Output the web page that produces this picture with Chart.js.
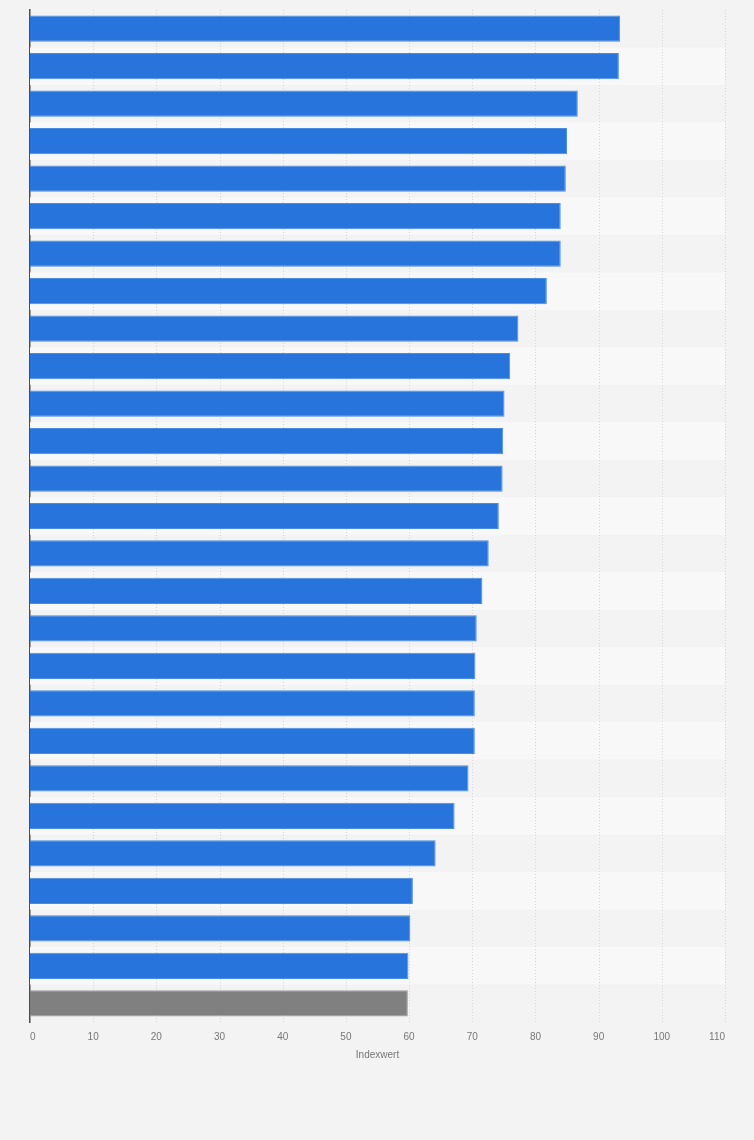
<!DOCTYPE html>
<html>
<head>
<meta charset="utf-8">
<script src="https://cdn.jsdelivr.net/npm/chart.js@4/dist/chart.umd.min.js"></script>
<style>
  html, body { margin: 0; padding: 0; background: #f3f3f3; }
  #wrap { position: relative; width: 754px; height: 1140px; }
</style>
</head>
<body>
<div id="wrap"><canvas id="chart"></canvas></div>
<script>
// rows top to bottom, category names are not shown in the picture
let ranks = ['1', '2', '3', '4', '5', '6', '7', '8', '9', '10', '11', '12', '13', '14',
  '15', '16', '17', '18', '19', '20', '21', '22', '23', '24', '25', '26', '27']
let indexValues = [93.4, 93.2, 86.7, 85.0, 84.8, 84.0, 84.0, 81.8, 77.3, 76.0, 75.1, 74.9, 74.8, 74.2,
  72.6, 71.6, 70.7, 70.5, 70.4, 70.4, 69.4, 67.2, 64.2, 60.6, 60.2, 59.9, 59.8]
let highlighted = [26] // index of the grey bar
let xTicks = [0, 10, 20, 30, 40, 50, 60, 70, 80, 90, 100, 110]
let axisTitle = 'Indexwert'

let blue = '#2775dc'
let grey = '#808080'

let fills = indexValues.map((v, i) => highlighted.includes(i) ? grey : blue)
let borders = indexValues.map((v, i) => highlighted.includes(i) ? '#9a9a9a' : '#4a8ce4')

// alternating row bands behind the bars
let stripes = {
  id: 'stripes',
  beforeDatasetsDraw(chart) {
    let {ctx, chartArea, scales} = chart
    let y = scales.y
    let half = (y.getPixelForValue(1) - y.getPixelForValue(0)) / 2
    ctx.save()
    for (let i = 0; i < ranks.length; ++i) {
      if (i % 2 === 1) {
        let c = y.getPixelForValue(i)
        ctx.fillStyle = '#f8f8f8'
        ctx.fillRect(chartArea.left, c - half, chartArea.right - chartArea.left, half * 2)
      }
    }
    ctx.restore()
  },
}

// dotted vertical grid drawn over the stripes, under the bars
let dottedGrid = {
  id: 'dottedGrid',
  beforeDatasetsDraw(chart) {
    let {ctx, chartArea, scales} = chart
    ctx.save()
    ctx.strokeStyle = '#d6d6d6'
    ctx.lineWidth = 1
    ctx.setLineDash([1, 2])
    for (let t of xTicks) {
      if (t === 0) continue
      let px = Math.round(scales.x.getPixelForValue(t)) + 0.5
      ctx.beginPath()
      ctx.moveTo(px, chartArea.top)
      ctx.lineTo(px, chartArea.bottom)
      ctx.stroke()
    }
    ctx.restore()
  },
}

Chart.defaults.font.family = '"Liberation Sans", Arial, sans-serif'

new Chart(document.getElementById('chart'), {
  type: 'bar',
  data: {
    labels: ranks,
    datasets: [{
      data: indexValues,
      backgroundColor: fills,
      borderColor: borders,
      borderWidth: 1,
      borderSkipped: 'start',
      categoryPercentage: 1,
      barPercentage: 0.7,
    }],
  },
  options: {
    indexAxis: 'y',
    responsive: true,
    maintainAspectRatio: false,
    animation: false,
    layout: {
      padding: {left: 0, right: 29, top: 10, bottom: 62},
    },
    plugins: {
      legend: {display: false},
      tooltip: {enabled: false},
    },
    scales: {
      x: {
        min: 0,
        max: 110,
        afterBuildTicks(scale) {
          scale.ticks = xTicks.map(v => ({value: v}))
        },
        afterFit(scale) {
          scale.height = 56
        },
        grid: {display: false, drawTicks: false},
        border: {display: false},
        ticks: {
          color: '#777',
          font: {size: 10},
          padding: 9,
          maxRotation: 0,
          align: 'inner',
        },
        title: {
          display: true,
          text: axisTitle,
          color: '#777',
          font: {size: 10},
          padding: {top: 0, bottom: 17},
        },
      },
      y: {
        z: 1,
        afterFit(scale) {
          scale.width = 30
        },
        grid: {display: false, drawTicks: false},
        border: {display: true, color: '#4d4d4d', width: 1.5},
        ticks: {display: false},
      },
    },
  },
  plugins: [stripes, dottedGrid],
})
</script>
</body>
</html>
